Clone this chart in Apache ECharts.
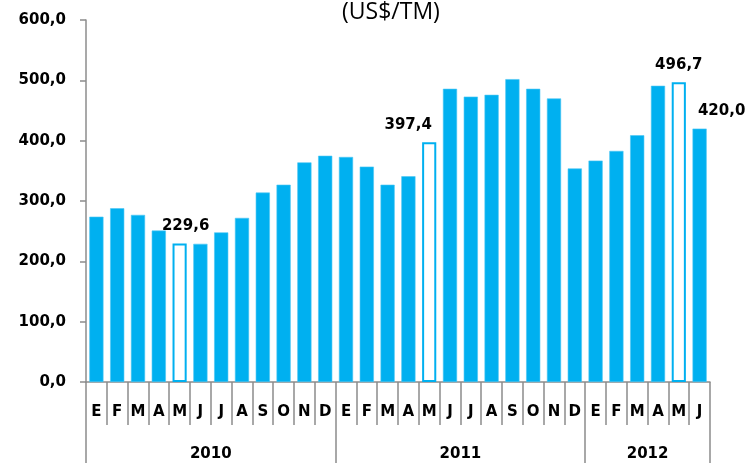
<!DOCTYPE html>
<html>
<head>
<meta charset="utf-8">
<script src="https://cdn.jsdelivr.net/npm/echarts@6/dist/echarts.min.js"></script>
<style>
  html, body { margin: 0; padding: 0; background: #fff; }
  #chart { width: 750px; height: 463px; }
</style>
</head>
<body>
<div id="chart"></div>
<script>
// meses (E=enero ... D=diciembre), 2010-01 a 2012-06
const months = ['E','F','M','A','M','J','J','A','S','O','N','D',
                'E','F','M','A','M','J','J','A','S','O','N','D',
                'E','F','M','A','M','J'];
const years = ['2010', '2011', '2012'];
const yearStarts = [0, 12, 24, 30];
const prices = [274, 288, 277, 251, 229.6, 229, 248, 272, 314, 327, 364, 375,
                373, 357, 327, 341, 397.4, 486, 473, 476, 502, 486, 470, 354,
                367, 383, 409, 491, 496.7, 420];
// barras huecas (mayo de cada año)
const hollow = [4, 16, 28];
// barras con etiqueta de valor y su desplazamiento horizontal
const labelled = [4, 16, 28, 29];
const labelShift = [6, -21, 0, 22];
const yTicks = [0, 100, 200, 300, 400, 500, 600];

const fmt = v => v.toFixed(1).replace('.', ',');
const blue = '#00B0F0';
const grey = '#8c8c8c';
const numFont = 'DejaVu Sans';

const barData = prices.map((v, i) => {
    const item = { value: v };
    if (hollow.includes(i)) {
        item.itemStyle = { color: '#fff', borderColor: blue, borderWidth: 2 };
    }
    const k = labelled.indexOf(i);
    if (k >= 0) {
        item.label = {
            show: true,
            position: 'top',
            distance: 10,
            offset: [labelShift[k], 0],
            formatter: p => fmt(p.value),
            fontFamily: numFont,
            fontWeight: 'bold',
            fontSize: 15,
            color: '#000'
        };
    }
    return item;
});

const chart = echarts.init(document.getElementById('chart'));
chart.setOption({
    animation: false,
    title: {
        text: '(US$/TM)',
        left: 337,
        top: -4,
        textStyle: { fontFamily: 'Open Sans', fontWeight: 'normal', fontSize: 23, color: '#000' }
    },
    grid: { left: 86, right: 40, top: 20, bottom: 81 },
    xAxis: [
        {
            type: 'category',
            data: months,
            position: 'bottom',
            axisLine: { lineStyle: { color: grey, width: 1.5 } },
            axisTick: { show: true, interval: 0, length: 43, lineStyle: { color: grey, width: 1.5 } },
            axisLabel: {
                interval: 0, margin: 23,
                fontFamily: numFont, fontWeight: 'bold', fontSize: 15, color: '#000'
            }
        },
        {
            type: 'value',
            min: 0,
            max: 30,
            position: 'bottom',
            axisLine: { show: false },
            splitLine: { show: false },
            axisTick: {
                show: true, length: 81,
                customValues: yearStarts,
                lineStyle: { color: grey, width: 1.5 }
            },
            axisLabel: {
                margin: 65,
                customValues: years.map((y, i) => (yearStarts[i] + yearStarts[i + 1]) / 2),
                formatter: v => {
                    const i = yearStarts.findIndex((s, j) => (s + yearStarts[j + 1]) / 2 === v);
                    return i >= 0 ? years[i] : '';
                },
                fontFamily: numFont, fontWeight: 'bold', fontSize: 15, color: '#000'
            }
        }
    ],
    yAxis: {
        type: 'value',
        min: yTicks[0],
        max: yTicks[yTicks.length - 1],
        interval: 100,
        axisLine: { show: true, lineStyle: { color: grey, width: 1.5 } },
        axisTick: { show: true, length: 6, lineStyle: { color: grey, width: 1.5 } },
        splitLine: { show: false },
        axisLabel: {
            margin: 20,
            formatter: v => fmt(v),
            fontFamily: numFont, fontWeight: 'bold', fontSize: 15, color: '#000'
        }
    },
    series: [
        {
            type: 'bar',
            xAxisIndex: 0,
            data: barData,
            barCategoryGap: '32%',
            itemStyle: { color: blue, borderColor: '#4cc6f3', borderWidth: 0.6 }
        }
    ]
});
</script>
</body>
</html>
